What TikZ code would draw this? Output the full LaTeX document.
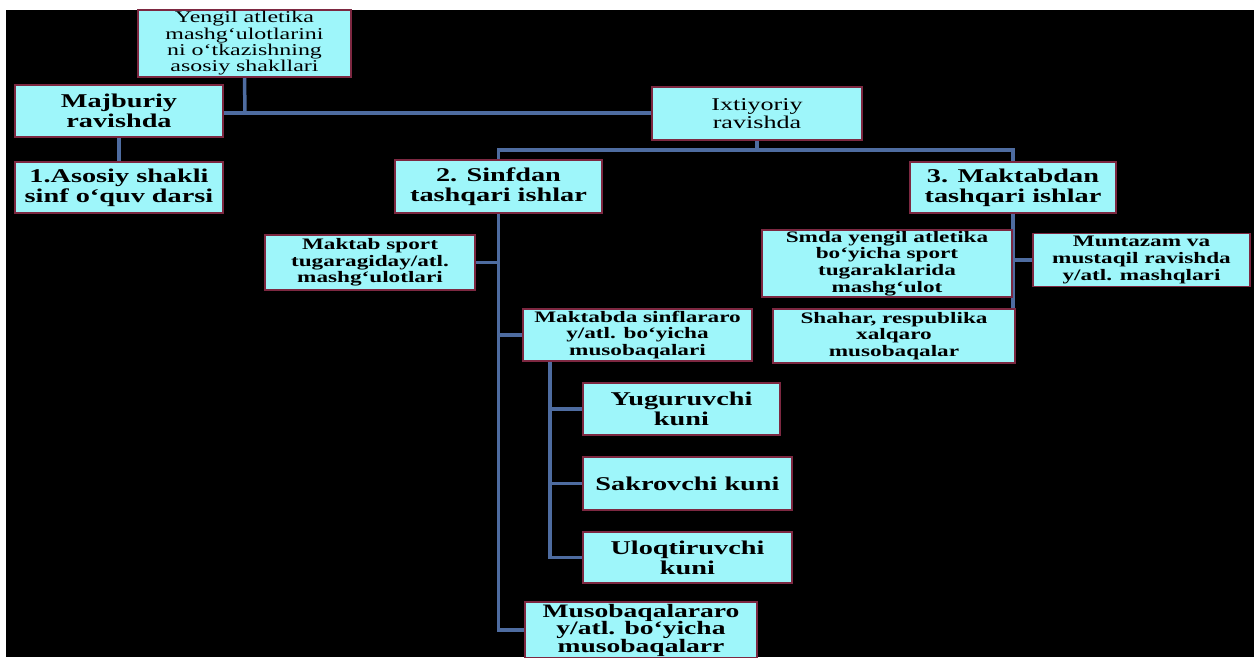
\documentclass[tikz,border=0pt]{standalone}
\usepackage{fontspec}
\setmainfont{Liberation Serif}[FakeStretch=1.45]
\usetikzlibrary{backgrounds}
\definecolor{boxfill}{RGB}{158,246,250}
\definecolor{boxline}{RGB}{125,40,65}
\definecolor{linkcol}{RGB}{78,108,160}

\begin{document}
\begin{tikzpicture}[x=1pt,y=-1pt,
        box/.style={draw=boxline,line width=1.6pt,fill=boxfill,align=center,inner sep=1pt,font=\bfseries\fontsize{19.5}{20}\selectfont},
        smallbox/.style={box,font=\bfseries\fontsize{16}{16.7}\selectfont},
        plainbox/.style={box,font=\fontsize{16.5}{16.3}\selectfont},
        link/.style={draw=linkcol,line width=3.5pt}]
        \useasboundingbox (0,0) rectangle (1258,657);
        \node[plainbox,minimum width=213pt,minimum height=67pt] (top) at (244.5,43.5) {Yengil atletika\\mashg‘ulotlarini\\ni o‘tkazishning\\asosiy shakllari};
        \node[box,minimum width=208pt,minimum height=52pt] (maj) at (119,111) {Majburiy\\ravishda};
        \node[box,minimum width=208pt,minimum height=51pt] (asos) at (119,187.5) {1.Asosiy shakli\\sinf o‘quv darsi};
        \node[plainbox,font=\fontsize{18}{18.5}\selectfont,minimum width=210pt,minimum height=53pt] (ixt) at (757,113.5) {Ixtiyoriy\\ravishda};
        \node[box,minimum width=207pt,minimum height=53pt] (sinf) at (498.5,186.5) {2. Sinfdan\\tashqari ishlar};
        \node[box,minimum width=206pt,minimum height=51pt] (makt) at (1013,187.5) {3. Maktabdan\\tashqari ishlar};
        \node[smallbox,minimum width=210pt,minimum height=55pt] (sport) at (370,262.5) {Maktab sport\\tugaragiday/atl.\\mashg‘ulotlari};
        \node[smallbox,minimum width=229pt,minimum height=52pt] (sinfl) at (637.5,335) {Maktabda sinflararo\\y/atl. bo‘yicha\\musobaqalari};
        \node[box,minimum width=197pt,minimum height=52pt] (yug) at (681.5,409) {Yuguruvchi\\kuni};
        \node[box,minimum width=209pt,minimum height=53pt] (sakr) at (687.5,483.5) {Sakrovchi kuni};
        \node[box,minimum width=209pt,minimum height=51pt] (uloq) at (687.5,557.5) {Uloqtiruvchi\\kuni};
        \node[box,font=\bfseries\fontsize{19}{17.5}\selectfont,minimum width=232pt,minimum height=56pt] (musob) at (641,630) {Musobaqalararo\\y/atl. bo‘yicha\\musobaqalarr};
        \node[smallbox,minimum width=250pt,minimum height=67pt] (smda) at (887,263.5) {Smda yengil atletika\\bo‘yicha sport\\tugaraklarida\\mashg‘ulot};
        \node[smallbox,minimum width=242pt,minimum height=54pt] (shahar) at (894,336) {Shahar, respublika\\xalqaro\\musobaqalar};
        \node[smallbox,minimum width=217pt,minimum height=53pt] (munt) at (1141.5,260) {Muntazam va\\mustaqil ravishda\\y/atl. mashqlari};
        \begin{pgfonlayer}{background}
            \fill[white] (0,0) rectangle (1258,657);
            \fill[black] (6,10) rectangle (1254,657);
            \coordinate (j1) at (245,113);
            \coordinate (j2) at (757,150);
            \coordinate (j3) at (550,361);
            \draw[link] (top.south) -- (j1);
            \draw[link] (maj.east|-j1) -- (ixt.west|-j1);
            \draw[link] (maj.south) -- (maj.south|-asos.north);
            \draw[link] (ixt.south) -- (j2);
            \draw[link] (sinf.north) |- (j2) -| (makt.north);
            \draw[link] (sinf.south) |- (musob.west);
            \draw[link] (sport.east) -- (sport.east-|sinf.south);
            \draw[link] (sinfl.west-|sinf.south) -- (sinfl.west);
            \draw[link] (j3) |- (uloq.west);
            \foreach \n in {yug,sakr} \draw[link] (\n.west-|j3) -- (\n.west);
            \draw[link] (makt.south) -- (makt.south|-shahar.north);
            \draw[link] (munt.west-|makt.south) -- (munt.west);
        \end{pgfonlayer}
    \end{tikzpicture}
\end{document}
